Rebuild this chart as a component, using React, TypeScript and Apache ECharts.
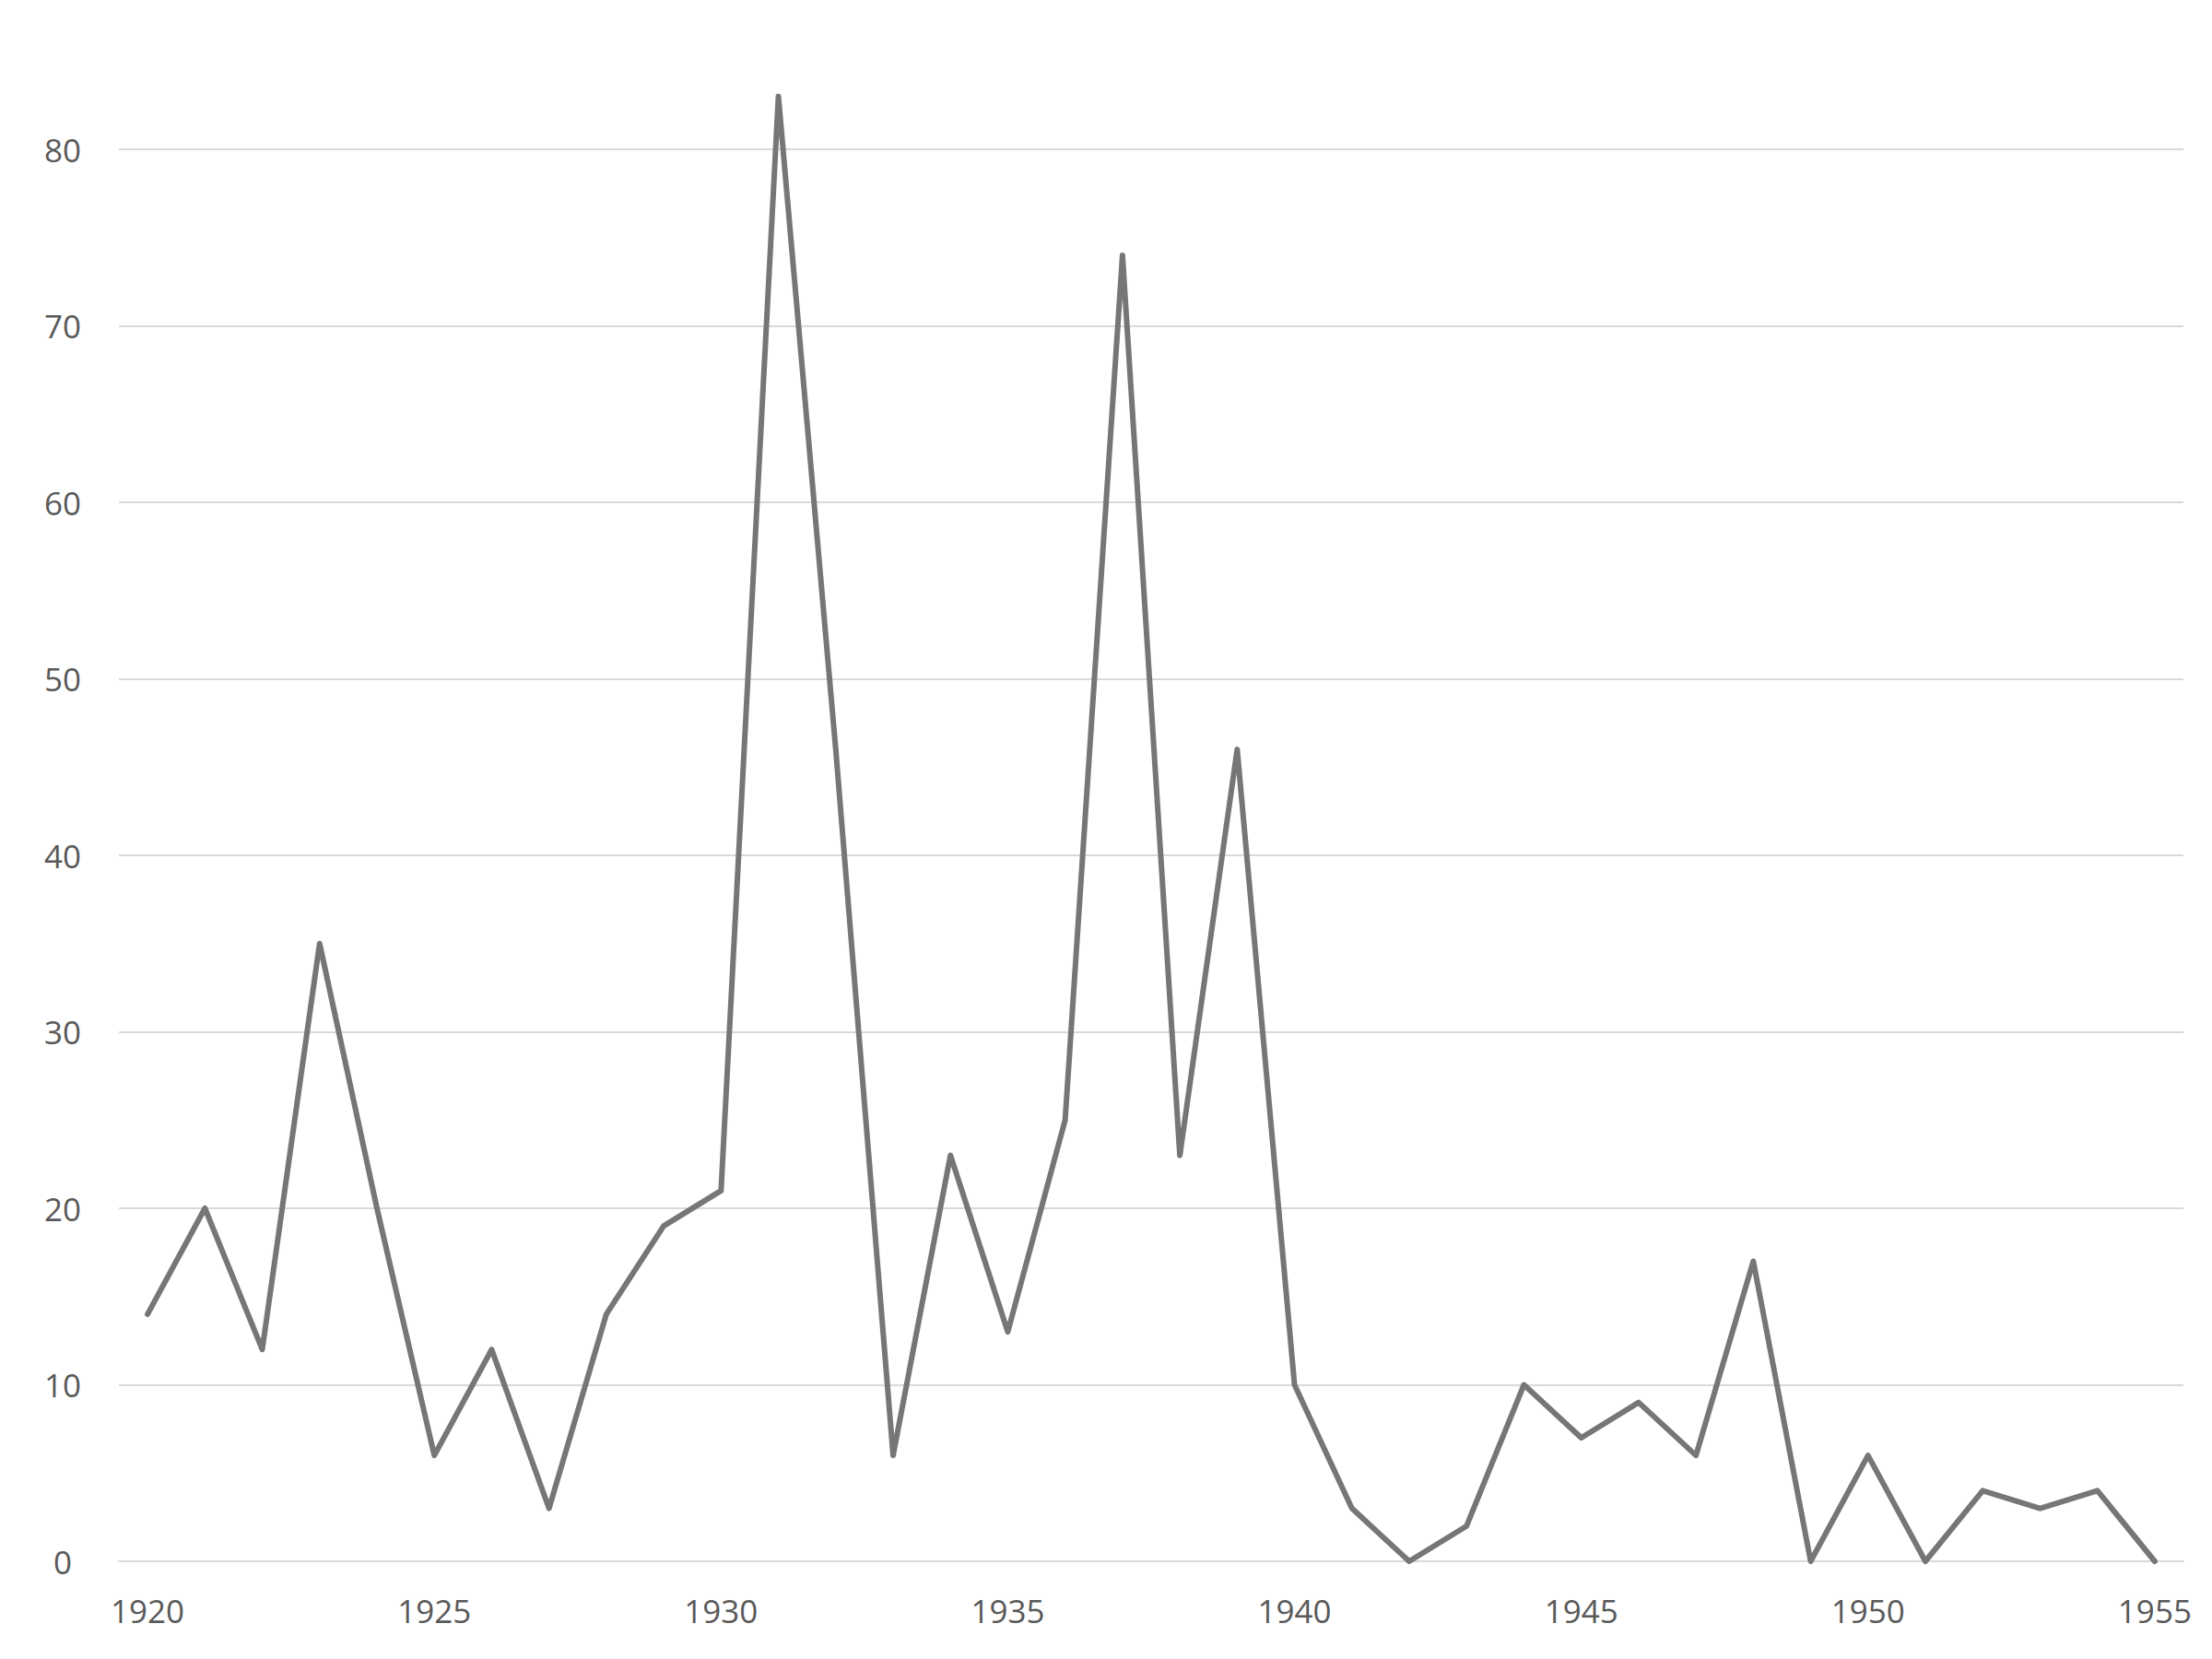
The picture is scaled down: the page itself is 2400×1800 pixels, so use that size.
import React, { useEffect, useRef } from "react";
import * as echarts from "echarts";

const years: string[] = [
  "1920", "1921", "1922", "1923", "1924", "1925", "1926", "1927", "1928", "1929",
  "1930", "1931", "1932", "1933", "1934", "1935", "1936", "1937", "1938", "1939",
  "1940", "1941", "1942", "1943", "1944", "1945", "1946", "1947", "1948", "1949",
  "1950", "1951", "1952", "1953", "1954", "1955",
];

const values: number[] = [
  14, 20, 12, 35, 20, 6, 12, 3, 14, 19,
  21, 83, 46, 6, 23, 13, 25, 74, 23, 46,
  10, 3, 0, 2, 10, 7, 9, 6, 17, 0,
  6, 0, 4, 3, 4, 0,
];

const yMin = 0;
const yMax = 80;
const yInterval = 10;

export default function App() {
  const ref = useRef<HTMLDivElement>(null);

  useEffect(() => {
    document.body.style.margin = "0";
    if (!ref.current) return;
    const chart = echarts.init(ref.current, null, { renderer: "svg" });
    chart.setOption({
      animation: false,
      backgroundColor: "#ffffff",
      grid: { left: 129, right: 31, top: 162, bottom: 106, containLabel: false },
      xAxis: {
        type: "category",
        data: years,
        boundaryGap: true,
        axisLine: { show: true, lineStyle: { color: "#d9d9d9", width: 2 } },
        axisTick: { show: false },
        axisLabel: {
          interval: 4,
          color: "#595959",
          fontFamily: "Open Sans",
          fontSize: 35,
          margin: 36,
        },
        splitLine: { show: false },
      },
      yAxis: {
        type: "value",
        min: yMin,
        max: yMax,
        interval: yInterval,
        axisLine: { show: false },
        axisTick: { show: false },
        axisLabel: {
          color: "#595959",
          fontFamily: "Open Sans",
          fontSize: 35,
          margin: 61,
          align: "center",
        },
        splitLine: { show: true, lineStyle: { color: "#d9d9d9", width: 2 } },
      },
      series: [
        {
          type: "line",
          data: values,
          symbol: "none",
          clip: false,
          lineStyle: { color: "#767676", width: 6, cap: "round", join: "round" },
        },
      ],
    });
    return () => chart.dispose();
  }, []);

  return <div ref={ref} style={{ width: 2400, height: 1800 }} />;
}
